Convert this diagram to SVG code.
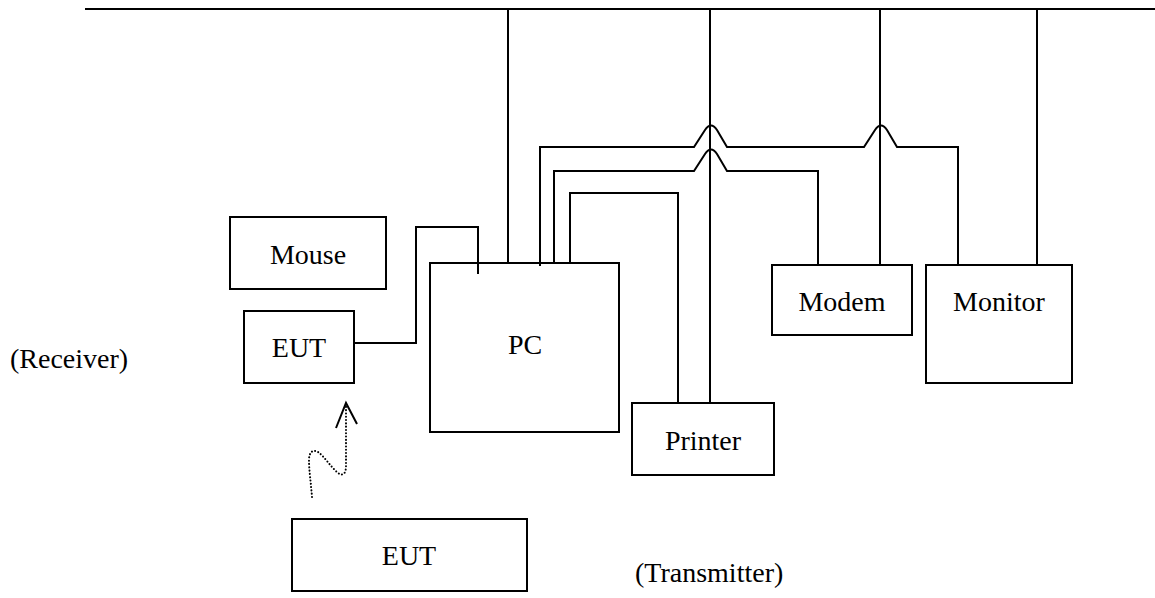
<svg xmlns="http://www.w3.org/2000/svg" width="1155" height="598" viewBox="0 0 1155 598">
<style>
.box{fill:#fff;stroke:#000;stroke-width:2}
.ln{fill:none;stroke:#000;stroke-width:2}
.dot{fill:none;stroke:#000;stroke-width:2;stroke-dasharray:0.1 3.2;stroke-linecap:round}
text{font-family:"Liberation Serif","Times New Roman",serif;font-size:28px;fill:#000}
.c{text-anchor:middle}
</style>
<rect width="1155" height="598" fill="#fff"/>
<g id="connectors">
<path class="ln" d="M85,9 H1155"/>
<path class="ln" d="M508,9 V263"/>
<path class="ln" d="M710,9 V403"/>
<path class="ln" d="M880,9 V265"/>
<path class="ln" d="M1037,9 V265"/>
<path class="ln" d="M540,266 V147 H694 L705,130 Q711,121 717,130 L727,147 H864 L875,130 Q881,121 887,130 L897,147 H958 V265"/>
<path class="ln" d="M554,263 V171 H694 L705,154 Q711,145 717,154 L727,171 H818 V265"/>
<path class="ln" d="M570,263 V193 H678 V403"/>
<path class="ln" d="M354,343 H416 V227 H478 V274"/>
<path class="dot" d="M312,497 C311,484 309,470 309,460 C309,452 313,449 318,452 C324,456 330,466 338,473 C344,477 346,472 346,466 V405"/>
<path class="ln" d="M336,428 L346,403 L357,424"/>
</g>
<g id="mouse"><rect class="box" x="230" y="217" width="156" height="72"/><text class="c" x="308" y="264">Mouse</text></g>
<g id="eut-receiver"><rect class="box" x="244" y="311" width="110" height="72"/><text class="c" x="299" y="357">EUT</text></g>
<g id="pc"><rect class="box" x="430" y="263" width="189" height="169" style="fill:none"/><text class="c" x="525" y="354">PC</text></g>
<g id="printer"><rect class="box" x="632" y="403" width="142" height="72"/><text class="c" x="703" y="450">Printer</text></g>
<g id="modem"><rect class="box" x="772" y="265" width="140" height="70"/><text class="c" x="842" y="311">Modem</text></g>
<g id="monitor"><rect class="box" x="926" y="265" width="146" height="118"/><text class="c" x="999" y="311">Monitor</text></g>
<g id="eut-transmitter"><rect class="box" x="292" y="519" width="235" height="72"/><text class="c" x="409" y="565">EUT</text></g>
<g id="labels">
<text x="10" y="368">(Receiver)</text>
<text x="635" y="582">(Transmitter)</text>
</g>
</svg>
